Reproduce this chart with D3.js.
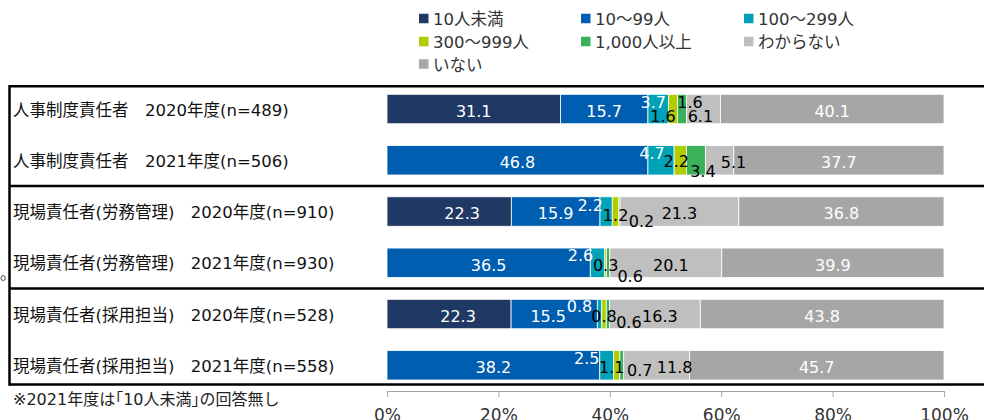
<!DOCTYPE html>
<html lang="ja">
<head>
<meta charset="utf-8">
<script src="https://cdn.jsdelivr.net/npm/d3@7"></script>
<style>
  html, body { margin: 0; padding: 0; background: #fff; }
  svg { display: block; }
  text { font-family: "DejaVu Sans", "Noto Sans CJK JP", sans-serif; }
</style>
</head>
<body>
<svg id="chart" width="984" height="420"></svg>
<script>
// Respondent groups (rows, top to bottom)
const categories = [
  "人事制度責任者　2020年度(n=489)",
  "人事制度責任者　2021年度(n=506)",
  "現場責任者(労務管理)　2020年度(n=910)",
  "現場責任者(労務管理)　2021年度(n=930)",
  "現場責任者(採用担当)　2020年度(n=528)",
  "現場責任者(採用担当)　2021年度(n=558)"
];

// Company-size answer categories
const seriesNames = ["10人未満", "10〜99人", "100〜299人", "300〜999人", "1,000人以上", "わからない", "いない"];

// Shares (%) per row; 2021 had no "10人未満" option (null)
const under10    = [31.1, null, 22.3, null, 22.3, null];
const from10     = [15.7, 46.8, 15.9, 36.5, 15.5, 38.2];
const from100    = [3.7, 4.7, 2.2, 2.6, 0.8, 2.5];
const from300    = [1.6, 2.2, 1.2, 0.3, 0.8, 1.1];
const over1000   = [1.6, 3.4, 0.2, 0.6, 0.6, 0.7];
const unknown    = [6.1, 5.1, 21.3, 20.1, 16.3, 11.8];
const noneValues = [40.1, 37.7, 36.8, 39.9, 43.8, 45.7];

const tickValues = [0, 0.2, 0.4, 0.6, 0.8, 1.0];
const footnote = "※2021年度は「10人未満」の回答無し";

// Styling
const colors = ["#203864", "#005eb0", "#00a2b8", "#b2cc00", "#3bb15c", "#bfbfbf", "#a6a6a6"];
const labelColors = ["#fff", "#fff", "#fff", "#000", "#000", "#000", "#fff"];

// Hand-placed offsets for crowded value labels [dx, dy] per row / series
const labelNudge = [
  [[0, 0], [0, 0], [-5, -9], [-10, 5.5], [8, -9], [-3, 5.5], [0, 0]],
  [[0, 0], [0, 0], [-9, -9.5], [-4, -1], [7, 9], [14, 0], [0, 0]],
  [[13, 0], [0, 0], [-16, -8], [0, 2], [22, 8], [0, 0], [0, 0]],
  [[0, 0], [0, 0], [-17, -10], [0, 0.5], [22, 11], [5, 0], [0, 0]],
  [[9, 0], [-6, 0], [-20, -9.5], [0, 0], [21, 6], [5, 0], [0, 0]],
  [[0, 0], [0, 0], [-20, -9.5], [-5, 0], [18, 2.5], [18, 0], [0, 0]]
];

const columns = [under10, from10, from100, from300, over1000, unknown, noneValues];
const rows = categories.map((c, i) => {
  const r = { category: c };
  seriesNames.forEach((s, j) => { r[s] = columns[j][i] == null ? 0 : columns[j][i]; });
  return r;
});

const stack = d3.stack().keys(seriesNames).offset(d3.stackOffsetExpand);
const series = stack(rows);

const svg = d3.select("#chart");

const x = d3.scaleLinear().domain([0, 1]).range([387, 944]);
const y = d3.scaleBand().domain(categories)
  .range([86.1, 388.2]).paddingInner(0.4254).paddingOuter(0.16);

// Group frame lines
const bw = y.bandwidth();
const yTop = y(categories[0]) - 8;
const ySep1 = (y(categories[1]) + bw + y(categories[2])) / 2;
const ySep2 = (y(categories[3]) + bw + y(categories[4])) / 2;
const yBot = y(categories[5]) + bw + 4.5;
const frame = svg.append("g").attr("stroke", "#000").attr("stroke-width", 2.5);
[yTop, ySep1, ySep2, yBot].forEach(v => {
  frame.append("line").attr("x1", 9.5).attr("x2", 984).attr("y1", v).attr("y2", v);
});
frame.append("line").attr("x1", 9.5).attr("x2", 9.5).attr("y1", yTop - 1.25).attr("y2", yBot + 1.25);

// Bars
const layer = svg.append("g").selectAll("g").data(series).join("g")
  .attr("fill", (d, i) => colors[i]);
layer.selectAll("rect").data(d => d).join("rect")
  .attr("x", d => x(d[0]))
  .attr("y", d => y(d.data.category))
  .attr("width", d => Math.max(0, x(d[1]) - x(d[0])))
  .attr("height", bw)
  .attr("stroke", "#fff")
  .attr("stroke-width", 0.8);

// Value labels
const fmt = d3.format(".1f");
series.forEach((s, j) => {
  s.forEach((d, i) => {
    const v = columns[j][i];
    if (v == null) return;
    const [dx, dy] = labelNudge[i][j];
    const cx = (x(d[0]) + x(d[1])) / 2 + dx;
    const cy = y(d.data.category) + bw / 2 + 2 + dy;
    svg.append("text")
      .attr("x", cx)
      .attr("y", cy + 5.8)
      .attr("text-anchor", "middle")
      .attr("font-size", 16)
      .attr("fill", labelColors[j])
      .text(fmt(v));
  });
});

// Row labels
svg.append("g").selectAll("text").data(categories).join("text")
  .attr("x", 13)
  .attr("y", d => y(d) + bw / 2 + 6.5)
  .attr("font-size", 16.5)
  .attr("fill", "#111")
  .text(d => d);

// Axis
const axis = d3.axisBottom(x)
  .tickValues(tickValues)
  .tickFormat(d3.format(".0%"))
  .tickSize(6)
  .tickPadding(12);
const ax = svg.append("g").attr("transform", "translate(0,391)").call(axis);
ax.select(".domain").attr("stroke", "#a6a6a6");
ax.selectAll(".tick line").attr("stroke", "#a6a6a6");
ax.selectAll(".tick text")
  .attr("font-size", 17)
  .attr("font-family", "DejaVu Sans, Noto Sans CJK JP, sans-serif")
  .attr("fill", "#333");

// Legend: three per row
const legend = svg.append("g");
const colX = [419, 581, 744];
const rowY = [18.5, 41.5, 64];
seriesNames.forEach((name, i) => {
  const lx = colX[i % 3], ly = rowY[Math.floor(i / 3)];
  legend.append("rect")
    .attr("x", lx).attr("y", ly - 4.75)
    .attr("width", 9.5).attr("height", 9.5)
    .attr("fill", colors[i]);
  legend.append("text")
    .attr("x", lx + 14).attr("y", ly + 6.5)
    .attr("font-size", 16.5)
    .attr("fill", "#333")
    .text(name);
});

// Footnote (half-width corner brackets via the halt feature)
svg.append("text")
  .attr("x", 13).attr("y", 405)
  .attr("font-size", 16)
  .attr("fill", "#222")
  .style("font-feature-settings", "'halt' 1")
  .text(footnote);

// Stray punctuation at the left margin
svg.append("text")
  .attr("x", 0).attr("y", 279)
  .attr("font-size", 16)
  .attr("font-family", "Noto Sans CJK JP")
  .attr("fill", "#333")
  .text("。");
</script>
</body>
</html>
